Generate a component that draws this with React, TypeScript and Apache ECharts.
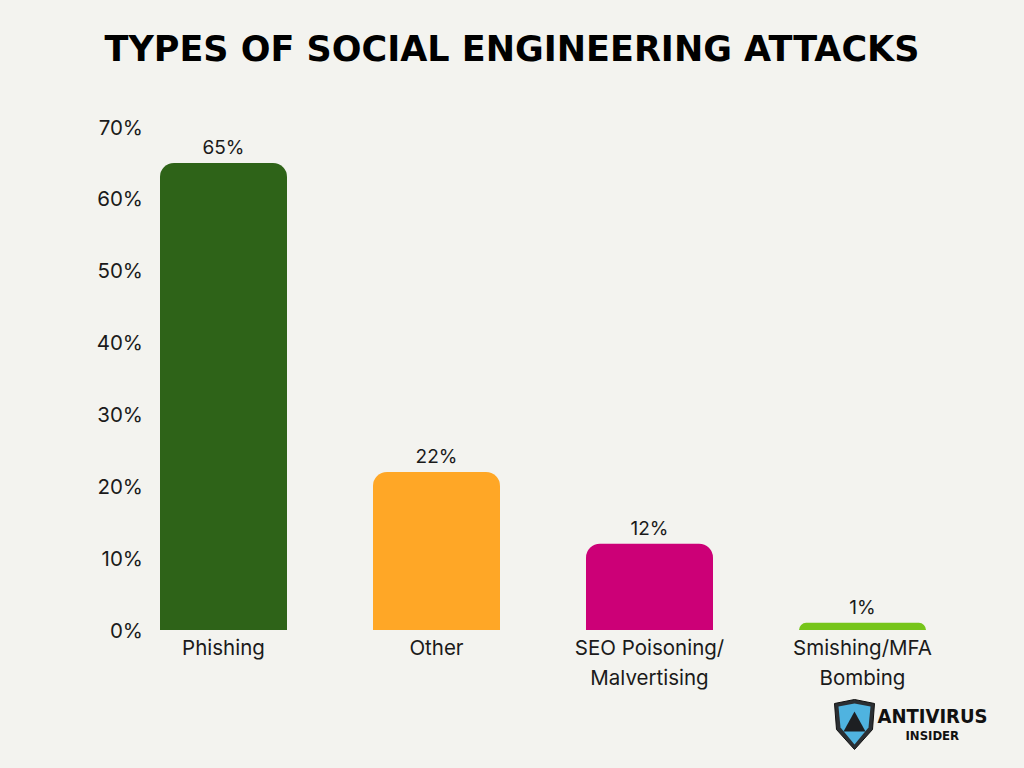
import React, { useEffect, useRef } from "react";
import * as echarts from "echarts";

const categories = ["Phishing", "Other", "SEO Poisoning/\nMalvertising", "Smishing/MFA\nBombing"];
const shares = [65, 22, 12, 1];
const barColors = ["#2e6318", "#ffa726", "#cc0077", "#76c51a"];
const yTicks = [0, 10, 20, 30, 40, 50, 60, 70];

const FONT = "Inter, 'Open Sans', sans-serif";

export default function App() {
  const ref = useRef<HTMLDivElement>(null);

  useEffect(() => {
    if (!ref.current) return;
    const chart = echarts.init(ref.current, undefined, { renderer: "svg" });
    chart.setOption({
      animation: false,
      backgroundColor: "#f3f3ef",
      title: {
        text: "TYPES OF SOCIAL ENGINEERING ATTACKS",
        left: "center",
        top: 26,
        textStyle: {
          fontFamily: "'DejaVu Sans', sans-serif",
          fontWeight: 900,
          fontSize: 35,
          color: "#000000",
        },
      },
      grid: { left: 117, right: 55, top: 127, bottom: 138 },
      xAxis: {
        type: "category",
        data: categories,
        axisLine: { show: false },
        axisTick: { show: false },
        axisLabel: {
          color: "#1a1a1a",
          fontFamily: FONT,
          fontSize: 20.5,
          lineHeight: 30,
          margin: 2,
        },
      },
      yAxis: {
        type: "value",
        min: yTicks[0],
        max: yTicks[yTicks.length - 1],
        interval: 10,
        splitLine: { show: false },
        axisLine: { show: false },
        axisTick: { show: false },
        axisLabel: {
          formatter: "{value}%",
          color: "#1a1a1a",
          fontFamily: FONT,
          fontSize: 20.5,
          margin: -26,
        },
      },
      series: [
        {
          type: "bar",
          barWidth: 127,
          data: shares.map((v, i) => ({ value: v, itemStyle: { color: barColors[i] } })),
          itemStyle: { borderRadius: [14, 14, 0, 0] },
          label: {
            show: true,
            position: "top",
            formatter: "{c}%",
            color: "#1a1a1a",
            fontFamily: FONT,
            fontSize: 19,
            distance: 6,
          },
        },
      ],
      graphic: [
        {
          type: "group",
          left: 834,
          top: 699,
          children: [
            {
              type: "polygon",
              shape: { points: [[0, 4], [20, 0], [40, 4], [38, 30], [20, 50], [2, 30]] },
              style: { fill: "#2b2f33", stroke: "#111", lineWidth: 1 },
            },
            {
              type: "polygon",
              shape: { points: [[4, 7], [20, 4], [36, 7], [34, 28], [20, 45], [6, 28]] },
              style: { fill: "#4fb3e0" },
            },
            {
              type: "polygon",
              shape: { points: [[20, 12], [31, 32], [9, 32]] },
              style: { fill: "#1d1f22" },
            },
            {
              type: "text",
              x: 43,
              y: 6,
              style: {
                text: "ANTIVIRUS",
                fontFamily: "'DejaVu Sans Condensed', 'DejaVu Sans', sans-serif",
                fontWeight: 900,
                fontSize: 20,
                fill: "#111",
              },
            },
            {
              type: "text",
              x: 71,
              y: 29,
              style: {
                text: "INSIDER",
                fontFamily: "'DejaVu Sans Condensed', 'DejaVu Sans', sans-serif",
                fontWeight: 900,
                fontSize: 13,
                fill: "#111",
              },
            },
          ],
        },
      ],
    });
    return () => chart.dispose();
  }, []);

  return <div ref={ref} style={{ width: 1024, height: 768, position: "absolute", left: 0, top: 0 }} />;
}
